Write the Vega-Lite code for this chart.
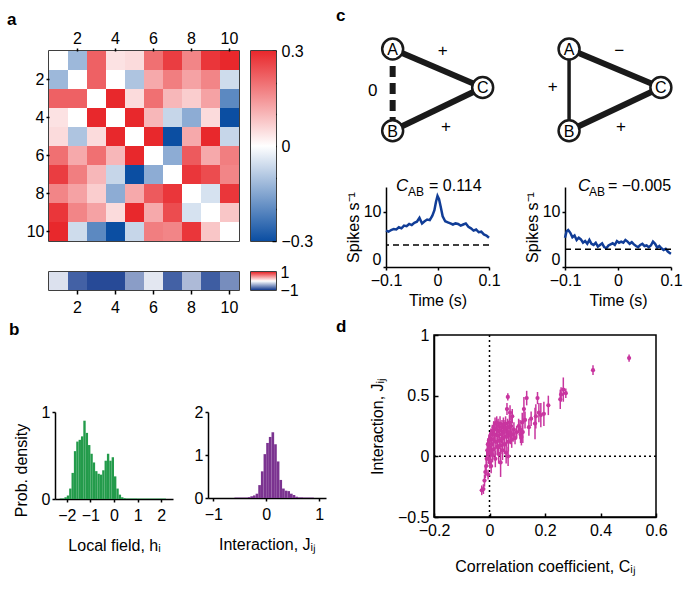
{
"$schema": "https://vega.github.io/schema/vega-lite/v6.json",
"padding": {"left": 6, "top": 6, "right": 4, "bottom": 4},
"background": "white",
"config": {
  "font": "Liberation Sans",
  "view": {"stroke": null},
  "axis": {"labelFontSize": 16, "titleFontSize": 16, "titleFontWeight": "normal", "labelColor": "black", "titleColor": "black", "domainColor": "black", "tickColor": "black", "domainWidth": 1.5, "tickWidth": 1.5, "tickSize": 3, "grid": false, "labelFont": "Liberation Sans", "titleFont": "Liberation Sans", "labelFlush": false},
  "title": {"font": "Liberation Sans", "fontSize": 17, "fontWeight": "bold", "anchor": "start", "frame": "group", "color": "black"}
},
"datasets": {
  "corr": [
    {"i":1,"j":1,"v":0},{"i":1,"j":2,"v":-0.12},{"i":1,"j":3,"v":0.22},{"i":1,"j":4,"v":0.04},{"i":1,"j":5,"v":0.05},{"i":1,"j":6,"v":0.2},{"i":1,"j":7,"v":0.27},{"i":1,"j":8,"v":0.17},{"i":1,"j":9,"v":0.28},{"i":1,"j":10,"v":0.3},
    {"i":2,"j":1,"v":-0.12},{"i":2,"j":2,"v":0},{"i":2,"j":3,"v":0.22},{"i":2,"j":4,"v":0},{"i":2,"j":5,"v":-0.1},{"i":2,"j":6,"v":0.12},{"i":2,"j":7,"v":0.18},{"i":2,"j":8,"v":0.13},{"i":2,"j":9,"v":0.17},{"i":2,"j":10,"v":-0.06},
    {"i":3,"j":1,"v":0.22},{"i":3,"j":2,"v":0.22},{"i":3,"j":3,"v":0},{"i":3,"j":4,"v":0.3},{"i":3,"j":5,"v":0.05},{"i":3,"j":6,"v":0.2},{"i":3,"j":7,"v":0.1},{"i":3,"j":8,"v":0.07},{"i":3,"j":9,"v":0.13},{"i":3,"j":10,"v":-0.2},
    {"i":4,"j":1,"v":0.04},{"i":4,"j":2,"v":0},{"i":4,"j":3,"v":0.3},{"i":4,"j":4,"v":0},{"i":4,"j":5,"v":0.3},{"i":4,"j":6,"v":0.1},{"i":4,"j":7,"v":-0.07},{"i":4,"j":8,"v":-0.14},{"i":4,"j":9,"v":0.05},{"i":4,"j":10,"v":-0.3},
    {"i":5,"j":1,"v":0.05},{"i":5,"j":2,"v":-0.1},{"i":5,"j":3,"v":0.05},{"i":5,"j":4,"v":0.3},{"i":5,"j":5,"v":0},{"i":5,"j":6,"v":0.3},{"i":5,"j":7,"v":-0.3},{"i":5,"j":8,"v":0.12},{"i":5,"j":9,"v":0.3},{"i":5,"j":10,"v":-0.07},
    {"i":6,"j":1,"v":0.2},{"i":6,"j":2,"v":0.12},{"i":6,"j":3,"v":0.2},{"i":6,"j":4,"v":0.1},{"i":6,"j":5,"v":0.3},{"i":6,"j":6,"v":0},{"i":6,"j":7,"v":-0.14},{"i":6,"j":8,"v":0.23},{"i":6,"j":9,"v":0.12},{"i":6,"j":10,"v":0.18},
    {"i":7,"j":1,"v":0.27},{"i":7,"j":2,"v":0.18},{"i":7,"j":3,"v":0.1},{"i":7,"j":4,"v":-0.07},{"i":7,"j":5,"v":-0.3},{"i":7,"j":6,"v":-0.14},{"i":7,"j":7,"v":0},{"i":7,"j":8,"v":0.28},{"i":7,"j":9,"v":0.25},{"i":7,"j":10,"v":0.17},
    {"i":8,"j":1,"v":0.17},{"i":8,"j":2,"v":0.13},{"i":8,"j":3,"v":0.07},{"i":8,"j":4,"v":-0.14},{"i":8,"j":5,"v":0.12},{"i":8,"j":6,"v":0.23},{"i":8,"j":7,"v":0.28},{"i":8,"j":8,"v":0},{"i":8,"j":9,"v":-0.05},{"i":8,"j":10,"v":0.28},
    {"i":9,"j":1,"v":0.28},{"i":9,"j":2,"v":0.17},{"i":9,"j":3,"v":0.13},{"i":9,"j":4,"v":0.05},{"i":9,"j":5,"v":0.3},{"i":9,"j":6,"v":0.12},{"i":9,"j":7,"v":0.25},{"i":9,"j":8,"v":-0.05},{"i":9,"j":9,"v":0},{"i":9,"j":10,"v":0.08},
    {"i":10,"j":1,"v":0.3},{"i":10,"j":2,"v":-0.06},{"i":10,"j":3,"v":-0.2},{"i":10,"j":4,"v":-0.3},{"i":10,"j":5,"v":-0.07},{"i":10,"j":6,"v":0.18},{"i":10,"j":7,"v":0.17},{"i":10,"j":8,"v":0.28},{"i":10,"j":9,"v":0.08},{"i":10,"j":10,"v":0}
  ],
  "strip": [{"j":1,"h":-0.15},{"j":2,"h":-0.8},{"j":3,"h":-0.92},{"j":4,"h":-0.92},{"j":5,"h":-0.5},{"j":6,"h":-0.12},{"j":7,"h":-0.8},{"j":8,"h":-0.35},{"j":9,"h":-0.82},{"j":10,"h":-0.58}],
  "histh": [
    {"x0":-2.3,"x1":-2.1,"d":0.006},{"x0":-2.1,"x1":-2.0,"d":0.02},{"x0":-2.0,"x1":-1.9,"d":0.04},{"x0":-1.9,"x1":-1.8,"d":0.12},{"x0":-1.8,"x1":-1.7,"d":0.3},{"x0":-1.7,"x1":-1.6,"d":0.55},{"x0":-1.6,"x1":-1.5,"d":0.66},{"x0":-1.5,"x1":-1.4,"d":0.68},{"x0":-1.4,"x1":-1.3,"d":0.72},{"x0":-1.3,"x1":-1.2,"d":0.9},{"x0":-1.2,"x1":-1.1,"d":0.76},{"x0":-1.1,"x1":-1.0,"d":0.62},{"x0":-1.0,"x1":-0.9,"d":0.52},{"x0":-0.9,"x1":-0.8,"d":0.42},{"x0":-0.8,"x1":-0.7,"d":0.32},{"x0":-0.7,"x1":-0.6,"d":0.29},{"x0":-0.6,"x1":-0.5,"d":0.28},{"x0":-0.5,"x1":-0.4,"d":0.33},{"x0":-0.4,"x1":-0.3,"d":0.44},{"x0":-0.3,"x1":-0.2,"d":0.52},{"x0":-0.2,"x1":-0.1,"d":0.44},{"x0":-0.1,"x1":0.0,"d":0.48},{"x0":0.0,"x1":0.1,"d":0.26},{"x0":0.1,"x1":0.2,"d":0.12},{"x0":0.2,"x1":0.3,"d":0.05},{"x0":0.3,"x1":0.4,"d":0.02},{"x0":0.4,"x1":0.5,"d":0.01},{"x0":0.5,"x1":1.0,"d":0.006},{"x0":1.0,"x1":2.2,"d":0.005}
  ],
  "histj": [
    {"x0":-0.6,"x1":-0.35,"d":0.01},{"x0":-0.35,"x1":-0.3,"d":0.02},{"x0":-0.3,"x1":-0.25,"d":0.04},{"x0":-0.25,"x1":-0.2,"d":0.06},{"x0":-0.2,"x1":-0.15,"d":0.1},{"x0":-0.15,"x1":-0.1,"d":0.3},{"x0":-0.1,"x1":-0.05,"d":0.62},{"x0":-0.05,"x1":0.0,"d":1.02},{"x0":0.0,"x1":0.05,"d":1.28},{"x0":0.05,"x1":0.1,"d":1.42},{"x0":0.1,"x1":0.15,"d":1.53},{"x0":0.15,"x1":0.2,"d":1.25},{"x0":0.2,"x1":0.25,"d":0.85},{"x0":0.25,"x1":0.3,"d":0.42},{"x0":0.3,"x1":0.35,"d":0.22},{"x0":0.35,"x1":0.4,"d":0.17},{"x0":0.4,"x1":0.45,"d":0.16},{"x0":0.45,"x1":0.5,"d":0.1},{"x0":0.5,"x1":0.55,"d":0.07},{"x0":0.55,"x1":0.6,"d":0.03},{"x0":0.6,"x1":0.7,"d":0.015},{"x0":0.7,"x1":0.9,"d":0.01}
  ],
  "nodes": [{"node":"A","x":0,"y":1},{"node":"B","x":0,"y":0},{"node":"C","x":1,"y":0.53},{"node":"A","x":1.96,"y":1},{"node":"B","x":1.96,"y":0},{"node":"C","x":2.98,"y":0.53}],
  "thick": [{"x":0,"y":1,"x2":1,"y2":0.53},{"x":0,"y":0,"x2":1,"y2":0.53},{"x":1.96,"y":1,"x2":2.98,"y2":0.53},{"x":1.96,"y":0,"x2":2.98,"y2":0.53}],
  "dashed": [{"x":0,"y":1,"x2":0,"y2":0}],
  "thin": [{"x":1.96,"y":1,"x2":1.96,"y2":0}],
  "signs": [{"s":"+","x":0.556,"y":0.979},{"s":"+","x":0.592,"y":0.049},{"s":"0","x":-0.222,"y":0.489},{"s":"−","x":2.518,"y":0.979},{"s":"+","x":1.778,"y":0.531},{"s":"+","x":2.537,"y":0.042}],
  "ccg1": [
    {"t":-0.1,"r":6.6},{"t":-0.095,"r":6.4},{"t":-0.09,"r":6.7},{"t":-0.085,"r":6.9},{"t":-0.08,"r":6.8},{"t":-0.075,"r":7.2},{"t":-0.07,"r":7.0},{"t":-0.065,"r":7.5},{"t":-0.06,"r":7.4},{"t":-0.055,"r":7.8},{"t":-0.05,"r":7.6},{"t":-0.045,"r":8.0},{"t":-0.04,"r":8.2},{"t":-0.035,"r":8.9},{"t":-0.03,"r":7.9},{"t":-0.025,"r":8.3},{"t":-0.02,"r":8.6},{"t":-0.015,"r":8.5},{"t":-0.01,"r":9.3},{"t":-0.006,"r":10.3},{"t":-0.003,"r":11.8},{"t":0.0,"r":12.9},{"t":0.003,"r":12.3},{"t":0.006,"r":11.0},{"t":0.01,"r":9.2},{"t":0.015,"r":8.3},{"t":0.02,"r":8.1},{"t":0.025,"r":7.9},{"t":0.03,"r":7.7},{"t":0.035,"r":7.9},{"t":0.04,"r":7.8},{"t":0.045,"r":7.5},{"t":0.05,"r":7.7},{"t":0.055,"r":7.9},{"t":0.06,"r":7.3},{"t":0.065,"r":7.0},{"t":0.07,"r":6.6},{"t":0.075,"r":6.8},{"t":0.08,"r":6.3},{"t":0.085,"r":6.4},{"t":0.09,"r":5.9},{"t":0.095,"r":5.7},{"t":0.1,"r":5.3}
  ],
  "ccg2": [
    {"t":-0.1,"r":5.3},{"t":-0.097,"r":6.5},{"t":-0.094,"r":6.7},{"t":-0.09,"r":6.2},{"t":-0.086,"r":5.4},{"t":-0.082,"r":5.7},{"t":-0.078,"r":4.9},{"t":-0.074,"r":5.3},{"t":-0.07,"r":5.0},{"t":-0.066,"r":4.4},{"t":-0.062,"r":4.7},{"t":-0.058,"r":4.2},{"t":-0.054,"r":4.9},{"t":-0.05,"r":4.2},{"t":-0.046,"r":4.0},{"t":-0.042,"r":4.4},{"t":-0.038,"r":3.7},{"t":-0.034,"r":4.0},{"t":-0.03,"r":4.3},{"t":-0.026,"r":3.6},{"t":-0.022,"r":3.4},{"t":-0.018,"r":3.9},{"t":-0.014,"r":4.1},{"t":-0.01,"r":4.3},{"t":-0.006,"r":4.0},{"t":-0.002,"r":4.7},{"t":0.002,"r":4.4},{"t":0.006,"r":4.6},{"t":0.01,"r":4.4},{"t":0.014,"r":4.9},{"t":0.018,"r":4.6},{"t":0.022,"r":4.2},{"t":0.026,"r":4.5},{"t":0.03,"r":4.1},{"t":0.034,"r":3.8},{"t":0.038,"r":3.6},{"t":0.042,"r":4.0},{"t":0.046,"r":4.2},{"t":0.05,"r":3.8},{"t":0.054,"r":3.9},{"t":0.058,"r":3.6},{"t":0.062,"r":3.9},{"t":0.066,"r":4.6},{"t":0.07,"r":4.2},{"t":0.074,"r":3.5},{"t":0.078,"r":3.8},{"t":0.082,"r":3.4},{"t":0.086,"r":3.1},{"t":0.09,"r":3.3},{"t":0.094,"r":2.8},{"t":0.098,"r":2.5},{"t":0.1,"r":2.4}
  ],
  "jc": [
    {"C":-0.028,"J":-0.28,"E":0.04},{"C":-0.022,"J":-0.27,"E":0.04},{"C":-0.018,"J":-0.2,"E":0.05},{"C":-0.015,"J":-0.13,"E":0.05},{"C":-0.012,"J":-0.08,"E":0.05},{"C":-0.01,"J":-0.02,"E":0.06},{"C":-0.008,"J":0.05,"E":0.05},{"C":-0.006,"J":0.1,"E":0.05},{"C":-0.005,"J":-0.15,"E":0.04},{"C":-0.004,"J":0.02,"E":0.06},
    {"C":-0.002,"J":0.13,"E":0.05},{"C":0.0,"J":0.07,"E":0.06},{"C":0.001,"J":-0.05,"E":0.05},{"C":0.002,"J":0.15,"E":0.05},{"C":0.004,"J":0.03,"E":0.06},{"C":0.005,"J":0.18,"E":0.05},{"C":0.006,"J":-0.08,"E":0.06},{"C":0.008,"J":0.1,"E":0.06},{"C":0.01,"J":0.21,"E":0.05},{"C":0.011,"J":0.01,"E":0.06},
    {"C":0.013,"J":0.14,"E":0.06},{"C":0.015,"J":0.24,"E":0.05},{"C":0.016,"J":0.06,"E":0.07},{"C":0.018,"J":0.18,"E":0.06},{"C":0.02,"J":0.27,"E":0.05},{"C":0.021,"J":-0.02,"E":0.07},{"C":0.023,"J":0.12,"E":0.06},{"C":0.025,"J":0.22,"E":0.06},{"C":0.026,"J":0.28,"E":0.05},{"C":0.028,"J":0.08,"E":0.07},
    {"C":0.03,"J":0.17,"E":0.06},{"C":0.031,"J":0.25,"E":0.06},{"C":0.033,"J":0.02,"E":0.08},{"C":0.035,"J":0.13,"E":0.07},{"C":0.036,"J":0.21,"E":0.06},{"C":0.038,"J":0.27,"E":0.06},{"C":0.04,"J":-0.05,"E":0.12},{"C":0.041,"J":0.09,"E":0.07},{"C":0.043,"J":0.18,"E":0.07},{"C":0.045,"J":0.24,"E":0.06},
    {"C":0.047,"J":0.05,"E":0.08},{"C":0.048,"J":0.15,"E":0.07},{"C":0.05,"J":0.26,"E":0.06},{"C":0.052,"J":0.2,"E":0.07},{"C":0.054,"J":0.1,"E":0.08},{"C":0.056,"J":0.23,"E":0.07},{"C":0.058,"J":0.27,"E":0.06},{"C":0.06,"J":0.03,"E":0.09},{"C":0.061,"J":0.16,"E":0.08},{"C":0.063,"J":0.39,"E":0.05},
    {"C":0.065,"J":0.24,"E":0.07},{"C":0.066,"J":0.49,"E":0.03},{"C":0.067,"J":0.0,"E":0.08},{"C":0.068,"J":0.12,"E":0.08},{"C":0.07,"J":0.2,"E":0.07},{"C":0.072,"J":0.28,"E":0.06},{"C":0.074,"J":0.36,"E":0.06},{"C":0.075,"J":0.17,"E":0.07},{"C":0.078,"J":0.25,"E":0.07},{"C":0.08,"J":0.14,"E":0.07},
    {"C":0.082,"J":0.33,"E":0.06},{"C":0.085,"J":0.18,"E":0.06},{"C":0.088,"J":0.22,"E":0.06},{"C":0.092,"J":0.15,"E":0.05},{"C":0.098,"J":0.2,"E":0.05},{"C":0.105,"J":0.25,"E":0.06},{"C":0.11,"J":0.22,"E":0.08},{"C":0.112,"J":0.18,"E":0.07},{"C":0.115,"J":0.16,"E":0.07},{"C":0.118,"J":0.28,"E":0.08},
    {"C":0.12,"J":0.2,"E":0.09},{"C":0.124,"J":0.39,"E":0.1},{"C":0.128,"J":0.3,"E":0.07},{"C":0.134,"J":0.48,"E":0.06},{"C":0.142,"J":0.24,"E":0.07},{"C":0.15,"J":0.31,"E":0.06},{"C":0.164,"J":0.27,"E":0.13},{"C":0.167,"J":0.33,"E":0.1},{"C":0.173,"J":0.48,"E":0.05},{"C":0.178,"J":0.36,"E":0.08},
    {"C":0.185,"J":0.34,"E":0.1},{"C":0.196,"J":0.35,"E":0.1},{"C":0.212,"J":0.42,"E":0.08},{"C":0.255,"J":0.47,"E":0.08},{"C":0.258,"J":0.51,"E":0.06},{"C":0.266,"J":0.55,"E":0.1},{"C":0.275,"J":0.52,"E":0.04},{"C":0.373,"J":0.71,"E":0.04},{"C":0.503,"J":0.81,"E":0.03}
  ]
},
"bounds": "flush",
"spacing": 337,
"hconcat": [
  {
    "bounds": "flush",
    "spacing": 361,
    "vconcat": [
      {
        "bounds": "flush",
        "spacing": 221,
        "resolve": {"scale": {"color": "independent"}, "legend": {"color": "independent"}},
        "vconcat": [
          {
            "bounds": "flush",
            "spacing": 12,
            "hconcat": [
              {
                "width": 190, "height": 190,
                "view": {"stroke": "black", "strokeWidth": 1.5},
                "data": {"name": "corr"},
                "mark": "rect",
                "encoding": {
                  "x": {"field": "j", "type": "ordinal", "scale": {"paddingInner": 0, "paddingOuter": 0}, "axis": {"orient": "top", "offset": 0, "values": [2,4,6,8,10], "title": null, "labelAngle": 0, "domain": false}},
                  "y": {"field": "i", "type": "ordinal", "scale": {"paddingInner": 0, "paddingOuter": 0}, "axis": {"values": [2,4,6,8,10], "title": null, "domain": false}},
                  "color": {"field": "v", "type": "quantitative", "scale": {"domain": [-0.3, 0, 0.3], "range": ["#0b4ea2", "#ffffff", "#e8282c"], "interpolate": "rgb"}, "legend": null}
                }
              },
              {
                "width": 25, "height": 190,
                "view": {"stroke": "black", "strokeWidth": 1.5},
                "title": {"text": "a", "dx": -244, "offset": 14},
                "data": {"values": [{}]},
                "mark": {"type": "rect", "color": {"gradient": "linear", "x1": 0, "y1": 1, "x2": 0, "y2": 0, "stops": [{"offset": 0, "color": "#0b4ea2"}, {"offset": 0.5, "color": "#ffffff"}, {"offset": 1, "color": "#e8282c"}]}},
                "encoding": {
                  "y": {"datum": -0.3, "type": "quantitative", "scale": {"domain": [-0.3, 0.3], "nice": false}, "axis": {"orient": "right", "values": [-0.3, -0.2, -0.1, 0, 0.1, 0.2, 0.3], "labelExpr": "datum.value == 0 ? '0' : datum.value > 0.29 ? '0.3' : datum.value < -0.29 ? '−0.3' : ''", "tickSize": -4, "labelPadding": 9, "domain": false, "title": null}},
                  "y2": {"datum": 0.3}
                }
              }
            ]
          },
          {
            "bounds": "flush",
            "spacing": 12,
            "hconcat": [
              {
                "width": 190, "height": 18,
                "view": {"stroke": "black", "strokeWidth": 1.5},
                "data": {"name": "strip"},
                "mark": "rect",
                "encoding": {
                  "x": {"field": "j", "type": "ordinal", "scale": {"paddingInner": 0, "paddingOuter": 0}, "axis": {"values": [2,4,6,8,10], "title": null, "labelAngle": 0, "domain": false, "tickSize": 4, "labelPadding": 5}},
                  "color": {"field": "h", "type": "quantitative", "scale": {"domain": [-1, 0, 1], "range": ["#143a8e", "#ffffff", "#e8282c"], "interpolate": "rgb"}, "legend": null}
                }
              },
              {
                "width": 25, "height": 18,
                "view": {"stroke": "black", "strokeWidth": 1.5},
                "data": {"values": [{}]},
                "mark": {"type": "rect", "color": {"gradient": "linear", "x1": 0, "y1": 1, "x2": 0, "y2": 0, "stops": [{"offset": 0, "color": "#143a8e"}, {"offset": 0.5, "color": "#ffffff"}, {"offset": 1, "color": "#e8282c"}]}},
                "encoding": {
                  "y": {"datum": -1, "type": "quantitative", "scale": {"domain": [-1, 1], "nice": false}, "axis": {"orient": "right", "values": [-1, 1], "format": ".3~g", "ticks": false, "labelPadding": 4, "domain": false, "title": null}},
                  "y2": {"datum": 1}
                }
              }
            ]
          }
        ]
      },
      {
        "bounds": "flush",
        "spacing": 0,
        "hconcat": [
          {"width": 6, "height": 1, "data": {"values": []}, "mark": "point", "encoding": {}},
          {
            "bounds": "flush",
            "spacing": 35,
            "hconcat": [
              {
                "width": 118, "height": 87,
                "title": {"text": "b", "dx": -46, "offset": 65},
                "data": {"name": "histh"},
                "mark": {"type": "rect", "color": "#239b4b"},
                "encoding": {
                  "x": {"field": "x0", "type": "quantitative", "scale": {"domain": [-2.5, 2.5], "nice": false}, "axis": {"values": [-2,-1,0,1,2], "format": ".3~g", "title": "Local field, hᵢ", "titlePadding": 14, "labelPadding": 5}},
                  "x2": {"field": "x1"},
                  "y": {"field": "d", "type": "quantitative", "scale": {"domain": [0, 1], "nice": false}, "axis": {"values": [0, 1], "format": ".3~g", "title": "Prob. density", "titlePadding": 12, "titleY": 58}},
                  "y2": {"datum": 0}
                }
              },
              {
                "width": 118, "height": 86,
                "data": {"name": "histj"},
                "mark": {"type": "rect", "color": "#7b3390"},
                "encoding": {
                  "x": {"field": "x0", "type": "quantitative", "scale": {"domain": [-1.1, 1.13], "nice": false}, "axis": {"values": [-1,0,1], "format": ".3~g", "title": "Interaction, Jᵢⱼ", "titlePadding": 14, "labelPadding": 5}},
                  "x2": {"field": "x1"},
                  "y": {"field": "d", "type": "quantitative", "scale": {"domain": [0, 2], "nice": false}, "axis": {"values": [0, 1, 2], "format": ".3~g", "title": null}},
                  "y2": {"datum": 0}
                }
              }
            ]
          }
        ]
      }
    ]
  },
  {
    "bounds": "flush",
    "spacing": 284,
    "vconcat": [
      {
        "bounds": "flush",
        "spacing": 36,
        "vconcat": [
          {
            "width": 290, "height": 100,
            "title": {"text": "c", "dx": -50, "offset": 9},
            "layer": [
              {"data": {"name": "thick"}, "mark": {"type": "rule", "strokeWidth": 6, "color": "#1a1a1a"},
               "encoding": {"x": {"field": "x", "type": "quantitative", "scale": {"domain": [-0.074, 3.148], "nice": false, "zero": false}, "axis": null}, "y": {"field": "y", "type": "quantitative", "scale": {"domain": [-0.248, 0.976], "nice": false, "zero": false}, "axis": null}, "x2": {"field": "x2"}, "y2": {"field": "y2"}}},
              {"data": {"name": "dashed"}, "mark": {"type": "rule", "strokeWidth": 6, "color": "#1a1a1a", "strokeDash": [11, 6], "strokeCap": "butt"},
               "encoding": {"x": {"field": "x", "type": "quantitative"}, "y": {"field": "y", "type": "quantitative"}, "x2": {"field": "x2"}, "y2": {"field": "y2"}}},
              {"data": {"name": "thin"}, "mark": {"type": "rule", "strokeWidth": 3.5, "color": "#1a1a1a"},
               "encoding": {"x": {"field": "x", "type": "quantitative"}, "y": {"field": "y", "type": "quantitative"}, "x2": {"field": "x2"}, "y2": {"field": "y2"}}},
              {"data": {"name": "nodes"}, "mark": {"type": "point", "filled": true, "fill": "white", "stroke": "#1a1a1a", "strokeWidth": 2.5, "size": 440, "opacity": 1},
               "encoding": {"x": {"field": "x", "type": "quantitative"}, "y": {"field": "y", "type": "quantitative"}}},
              {"data": {"name": "nodes"}, "mark": {"type": "text", "fontSize": 16, "align": "center", "baseline": "middle", "dy": 1, "color": "black"},
               "encoding": {"x": {"field": "x", "type": "quantitative"}, "y": {"field": "y", "type": "quantitative"}, "text": {"field": "node"}}},
              {"data": {"name": "signs"}, "mark": {"type": "text", "fontSize": 17, "align": "center", "baseline": "middle", "color": "black"},
               "encoding": {"x": {"field": "x", "type": "quantitative"}, "y": {"field": "y", "type": "quantitative"}, "text": {"field": "s"}}}
            ]
          },
          {
            "bounds": "flush",
            "spacing": 76,
            "hconcat": [
              {
                "width": 103, "height": 80,
                "layer": [
                  {"data": {"name": "ccg1"}, "mark": {"type": "line", "color": "#113d97", "strokeWidth": 2.5},
                   "encoding": {"x": {"field": "t", "type": "quantitative", "scale": {"domain": [-0.1, 0.1], "nice": false}, "axis": {"values": [-0.1, 0, 0.1], "format": ".3~g", "title": "Time (s)", "titlePadding": 4}},
                                "y": {"field": "r", "type": "quantitative", "scale": {"domain": [0, 14.5], "nice": false}, "axis": {"values": [0, 10], "format": ".3~g", "title": "Spikes s⁻¹", "titlePadding": 2, "labelFlush": true}}}},
                  {"data": {"values": [{}]}, "mark": {"type": "rule", "strokeDash": [6, 4], "strokeWidth": 1.5, "color": "black"}, "encoding": {"y": {"datum": 4.0}}},
                  {"data": {"values": [{}]}, "mark": {"type": "text", "text": "C", "fontStyle": "italic", "fontSize": 17, "align": "left", "baseline": "alphabetic"}, "encoding": {"x": {"datum": -0.0806}, "y": {"datum": 13.78}}},
                  {"data": {"values": [{}]}, "mark": {"type": "text", "text": "AB", "fontSize": 12, "align": "left", "baseline": "alphabetic"}, "encoding": {"x": {"datum": -0.0573}, "y": {"datum": 12.87}}},
                  {"data": {"values": [{}]}, "mark": {"type": "text", "text": "=  0.114", "fontSize": 16, "align": "left", "baseline": "alphabetic"}, "encoding": {"x": {"datum": -0.0165}, "y": {"datum": 13.78}}}
                ]
              },
              {
                "width": 106, "height": 80,
                "layer": [
                  {"data": {"name": "ccg2"}, "mark": {"type": "line", "color": "#113d97", "strokeWidth": 2.5},
                   "encoding": {"x": {"field": "t", "type": "quantitative", "scale": {"domain": [-0.1, 0.1], "nice": false}, "axis": {"values": [-0.1, 0, 0.1], "format": ".3~g", "title": "Time (s)", "titlePadding": 4}},
                                "y": {"field": "r", "type": "quantitative", "scale": {"domain": [0, 14.5], "nice": false}, "axis": {"values": [0, 10], "format": ".3~g", "title": "Spikes s⁻¹", "titlePadding": 2, "labelFlush": true}}}},
                  {"data": {"values": [{}]}, "mark": {"type": "rule", "strokeDash": [6, 4], "strokeWidth": 1.5, "color": "black"}, "encoding": {"y": {"datum": 3.2}}},
                  {"data": {"values": [{}]}, "mark": {"type": "text", "text": "C", "fontStyle": "italic", "fontSize": 17, "align": "left", "baseline": "alphabetic"}, "encoding": {"x": {"datum": -0.0755}, "y": {"datum": 13.78}}},
                  {"data": {"values": [{}]}, "mark": {"type": "text", "text": "AB", "fontSize": 12, "align": "left", "baseline": "alphabetic"}, "encoding": {"x": {"datum": -0.0547}, "y": {"datum": 12.87}}},
                  {"data": {"values": [{}]}, "mark": {"type": "text", "text": "= −0.005", "fontSize": 16, "align": "left", "baseline": "alphabetic"}, "encoding": {"x": {"datum": -0.0189}, "y": {"datum": 13.78}}}
                ]
              }
            ]
          }
        ]
      },
      {
        "bounds": "flush",
        "spacing": 0,
        "hconcat": [
          {"width": 48, "height": 1, "data": {"values": []}, "mark": "point", "encoding": {}},
          {
            "width": 222, "height": 182,
            "view": {"stroke": "black", "strokeWidth": 1.5},
            "title": {"text": "d", "dx": -98, "offset": -9},
            "layer": [
              {"data": {"values": [{}]}, "mark": {"type": "rule", "strokeDash": [2, 3], "strokeWidth": 1.5, "color": "black"}, "encoding": {"y": {"datum": 0, "scale": {"domain": [-0.5, 1], "nice": false}}}},
              {"data": {"values": [{}]}, "mark": {"type": "rule", "strokeDash": [2, 3], "strokeWidth": 1.5, "color": "black"}, "encoding": {"x": {"datum": 0, "scale": {"domain": [-0.2, 0.6], "nice": false}}}},
              {"data": {"name": "jc"}, "mark": {"type": "errorbar", "color": "#c8359f", "thickness": 1.5},
               "encoding": {"x": {"field": "C", "type": "quantitative", "scale": {"domain": [-0.2, 0.6], "nice": false}, "axis": {"values": [-0.2, 0, 0.2, 0.4, 0.6], "format": ".3~g", "title": "Correlation coefficient, Cᵢⱼ", "titlePadding": 20, "labelPadding": 9, "tickSize": -4}},
                            "y": {"field": "J", "type": "quantitative", "scale": {"domain": [-0.5, 1], "nice": false}, "axis": {"values": [-0.5, 0, 0.5, 1], "format": ".3~g", "title": "Interaction, Jᵢⱼ", "titlePadding": 12, "labelPadding": 9, "tickSize": -4}},
                            "yError": {"field": "E"}}},
              {"data": {"name": "jc"}, "mark": {"type": "point", "filled": true, "color": "#c8359f", "size": 18, "opacity": 1},
               "encoding": {"x": {"field": "C", "type": "quantitative"}, "y": {"field": "J", "type": "quantitative"}}}
            ]
          }
        ]
      }
    ]
  }
]
}
